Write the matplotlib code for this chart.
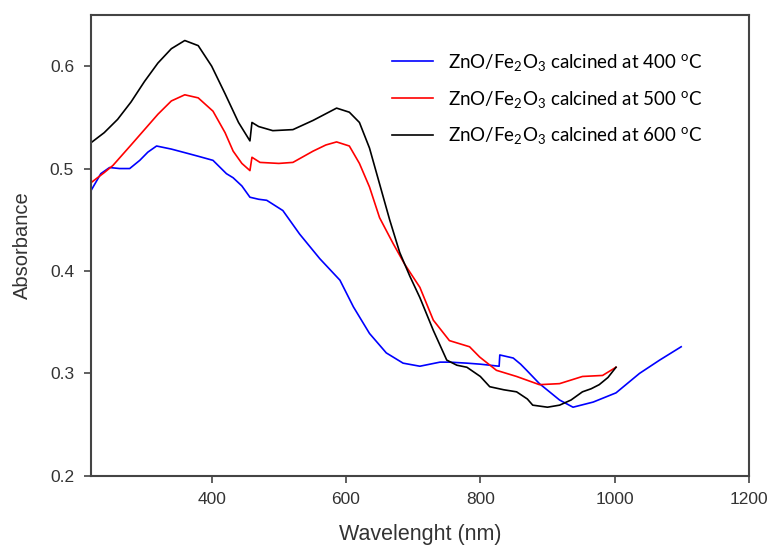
import matplotlib
matplotlib.use("Agg")
import matplotlib.pyplot as plt

# spectra (wavelength nm, absorbance)
wl_400 = [220, 235, 248, 263, 278, 293, 305, 318, 340, 363, 380, 402, 422, 432, 445,
          457, 470, 482, 506, 531, 561, 591, 611, 635, 660, 685, 710, 740, 754, 780,
          800, 814, 828, 829, 849, 860, 869, 888, 918, 938, 968, 1002, 1037, 1067, 1099]
abs_400 = [0.478, 0.495, 0.501, 0.500, 0.500, 0.508, 0.516, 0.522, 0.519, 0.515, 0.512,
           0.508, 0.495, 0.491, 0.483, 0.472, 0.470, 0.469, 0.459, 0.436, 0.412, 0.391,
           0.365, 0.339, 0.320, 0.310, 0.307, 0.311, 0.311, 0.310, 0.309, 0.308, 0.307,
           0.318, 0.315, 0.309, 0.303, 0.290, 0.274, 0.267, 0.272, 0.281, 0.300, 0.313, 0.326]

wl_500 = [220, 240, 253, 280, 300, 320, 340, 360, 380, 402, 420, 432, 445, 457, 460,
          472, 500, 521, 551, 570, 586, 605, 620, 635, 650, 670, 687, 710, 730, 754,
          784, 799, 824, 854, 888, 918, 952, 982, 1002]
abs_500 = [0.486, 0.496, 0.503, 0.523, 0.538, 0.553, 0.566, 0.572, 0.569, 0.556, 0.535,
           0.517, 0.505, 0.498, 0.511, 0.506, 0.505, 0.506, 0.517, 0.523, 0.526, 0.522,
           0.505, 0.482, 0.452, 0.427, 0.407, 0.384, 0.352, 0.332, 0.326, 0.316, 0.303,
           0.297, 0.289, 0.290, 0.297, 0.298, 0.306]

wl_600 = [220, 240, 260, 280, 300, 320, 340, 360, 380, 400, 420, 440, 457, 460, 470,
          491, 521, 551, 586, 605, 620, 635, 650, 665, 680, 695, 710, 730, 750, 765,
          780, 800, 814, 835, 854, 870, 878, 900, 918, 935, 952, 965, 977, 990, 1002]
abs_600 = [0.525, 0.535, 0.548, 0.565, 0.585, 0.603, 0.617, 0.625, 0.620, 0.600, 0.573,
           0.545, 0.527, 0.545, 0.541, 0.537, 0.538, 0.547, 0.559, 0.555, 0.545, 0.520,
           0.485, 0.450, 0.418, 0.395, 0.374, 0.342, 0.313, 0.308, 0.306, 0.297, 0.287,
           0.284, 0.282, 0.275, 0.269, 0.267, 0.269, 0.274, 0.282, 0.285, 0.289, 0.296, 0.306]

labels = ["ZnO/Fe$_2$O$_3$ calcined at 400 $^\\mathrm{o}$C",
          "ZnO/Fe$_2$O$_3$ calcined at 500 $^\\mathrm{o}$C",
          "ZnO/Fe$_2$O$_3$ calcined at 600 $^\\mathrm{o}$C"]
x_ticks = [400, 600, 800, 1000, 1200]
y_ticks = [0.2, 0.3, 0.4, 0.5, 0.6]

plt.rcParams['font.family'] = ['Liberation Sans', 'DejaVu Sans']
plt.rcParams['mathtext.fontset'] = 'custom'
plt.rcParams['mathtext.rm'] = 'Lato'
plt.rcParams['mathtext.it'] = 'Lato:italic'

fig = plt.figure(figsize=(7.69, 5.52), dpi=100)
ax = fig.add_axes([0.118, 0.138, 0.856, 0.835])

l1, = ax.plot(wl_400, abs_400, color='#0000ff', lw=1.2)
l2, = ax.plot(wl_500, abs_500, color='#ff0000', lw=1.2)
l3, = ax.plot(wl_600, abs_600, color='black', lw=1.2)

ax.set_xlim(220, 1200)
ax.set_ylim(0.2, 0.65)
ax.set_xticks(x_ticks)
ax.set_yticks(y_ticks)
ax.set_xticklabels([str(t) for t in x_ticks])
ax.set_yticklabels(['%.1f' % t for t in y_ticks])

for s in ax.spines.values():
    s.set_color('#444444')
    s.set_linewidth(1.5)
ax.tick_params(direction='out', length=5, width=1.2, color='#444444',
               labelsize=12.5, labelcolor='#333333', pad=7)

ax.set_xlabel('Wavelenght (nm)', fontsize=15.5, color='#333333', labelpad=12)
ax.set_ylabel('Absorbance', fontsize=14.5, color='#333333', labelpad=13)

leg = ax.legend([l1, l2, l3], labels, loc='upper left', bbox_to_anchor=(0.432, 0.957),
                frameon=False, handlelength=2.2, handletextpad=0.8, labelspacing=0.85,
                prop={'family': 'Lato', 'size': 13.5})

fig.savefig('out.png', dpi=100)
